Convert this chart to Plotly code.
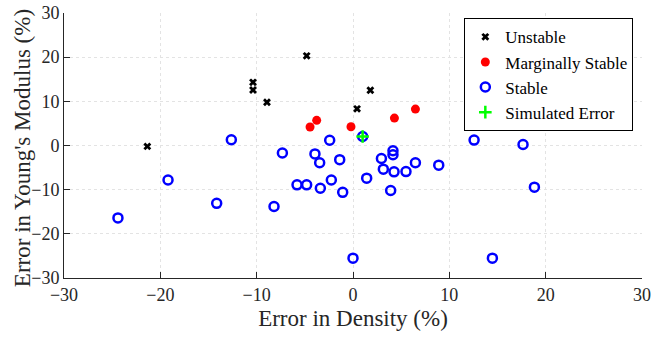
import plotly.graph_objects as go

unstable_x = [-21.35, -10.38, -10.38, -8.93, -4.81, 0.42, 1.8, 26.97]
unstable_y = [-0.2, 14.3, 12.55, 9.8, 20.3, 8.3, 12.5, 6.6]

marg_x = [-4.46, -3.77, -0.21, 4.3, 6.48]
marg_y = [4.2, 5.7, 4.24, 6.2, 8.25]

stable_x = [-24.4, -19.2, -14.15, -12.63, -8.2, -7.33, -5.81, -4.81, -3.95, -3.46,
            -3.39, -2.42, -2.25, -1.38, -1.07, 0.0, 1.0, 1.42, 2.95, 3.15,
            4.15, 4.15, 4.26, 3.91, 5.5, 6.48, 8.9, 12.57, 17.65, 18.83,
            14.47]
stable_y = [-16.4, -7.8, -13.1, 1.3, -13.8, -1.7, -8.9, -8.9, -1.9, -3.9,
            -9.67, 1.2, -7.8, -3.2, -10.6, -25.5, 2.05, -7.4, -2.95, -5.35,
            -1.2, -2.1, -5.96, -10.2, -5.9, -3.9, -4.45, 1.22, 0.23, -9.43,
            -25.5]

sim_x = [1.0]
sim_y = [2.05]

x_ticks = [-30, -20, -10, 0, 10, 20, 30]
y_ticks = [-30, -20, -10, 0, 10, 20, 30]

x_title = "Error in Density (%)"
y_title = "Error in Young's Modulus (%)"

font_family = "Liberation Serif, Times New Roman, serif"

fig = go.Figure()
fig.add_trace(go.Scatter(x=unstable_x, y=unstable_y, mode="markers", name="Unstable",
                         marker=dict(symbol="x", size=7, color="black", line=dict(width=0))))
fig.add_trace(go.Scatter(x=marg_x, y=marg_y, mode="markers", name="Marginally Stable",
                         marker=dict(symbol="circle", size=9, color="#FF0000", line=dict(width=0))))
fig.add_trace(go.Scatter(x=stable_x, y=stable_y, mode="markers", name="Stable",
                         marker=dict(symbol="circle-open", size=9, color="#0000FF",
                                     line=dict(width=2.5, color="#0000FF"))))
fig.add_trace(go.Scatter(x=sim_x, y=sim_y, mode="markers", name="Simulated Error",
                         marker=dict(symbol="cross-thin", size=9, color="#00FF00",
                                     line=dict(width=2.5, color="#00FF00"))))

axis_common = dict(
    showgrid=True, gridcolor="#E3E3E3", griddash="dot", gridwidth=1,
    zeroline=False, showline=True, linecolor="#262626", linewidth=1,
    ticks="inside", ticklen=6, tickcolor="#262626", mirror=False,
    automargin=False,
    tickfont=dict(family=font_family, size=18, color="#262626"),
)

fig.update_xaxes(range=[-30, 30], tickvals=x_ticks, **axis_common,
                 title=dict(text=x_title,
                            font=dict(family=font_family, size=23, color="#262626"),
                            standoff=6))
fig.update_yaxes(range=[-30, 30], tickvals=y_ticks, **axis_common)

fig.add_annotation(text=y_title, xref="paper", yref="paper", x=0, y=0.49,
                   xanchor="center", yanchor="middle", xshift=-42, textangle=-90,
                   showarrow=False,
                   font=dict(family=font_family, size=23, color="#262626"))

fig.update_layout(
    width=654, height=341,
    margin=dict(l=64, r=12, t=13, b=63),
    plot_bgcolor="white", paper_bgcolor="white",
    font=dict(family=font_family, color="#262626"),
    legend=dict(x=0.985, y=0.98, xanchor="right", yanchor="top",
                bordercolor="black", borderwidth=1, bgcolor="white",
                font=dict(family=font_family, size=17, color="black"),
                itemwidth=30, tracegroupgap=0),
    showlegend=True,
)

fig.write_html("out.html")
